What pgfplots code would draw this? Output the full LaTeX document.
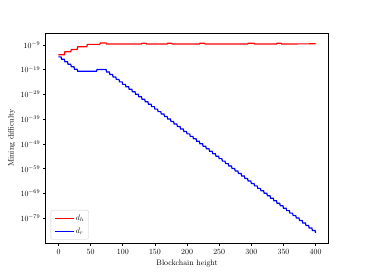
\documentclass[border=0pt]{standalone}
\usepackage{pgfplots}
\pgfplotsset{compat=1.18}
\begin{document}
\begin{tikzpicture}
  \begin{axis}[
      scale only axis,
      width=4.96in, height=3.696in,
      ymode=log,
      xmin=-20, xmax=420,
      ymin=6e-90, ymax=8e-5,
      xtick={0,50,...,400},
      ytick={1e-9,1e-19,1e-29,1e-39,1e-49,1e-59,1e-69,1e-79},
      minor ytick={},
      tick pos=left,
      tick align=outside,
      major tick length=3.5pt,
      axis line style={line width=0.8pt},
      every tick/.style={black, line width=0.8pt},
      xlabel={Blockchain height},
      ylabel={Mining difficulty},
      clip=false,
      legend cell align=left,
      legend style={draw=black!20, rounded corners=2pt,
                    at={(0.018,0.02)}, anchor=south west,
                    row sep=4pt, inner xsep=4pt, inner ysep=4pt},
      legend image code/.code={
        \draw[#1, mark=none] (0cm,0cm) -- (0.85cm,0cm);},
    ]
    % invisible frame to keep the 6.4 x 4.8 figure proportions
    \path (rel axis cs:-0.1613,-0.1429) rectangle (rel axis cs:1.129,1.1558);

    % d_h
    \addplot[mark=none, color=red, line width=1.5pt] table[row sep=\\] {
      x y \\
      0 1.2e-13 \\ 9 1.2e-13 \\ 10 2e-12 \\ 19 2e-12 \\
      20 1.6e-11 \\ 29 1.6e-11 \\ 30 2e-10 \\ 44 2e-10 \\
      45 1.8e-9 \\ 64 1.8e-9 \\ 65 6e-9 \\ 74 6e-9 \\
      75 2.5e-9 \\ 129 2.5e-9 \\ 130 5e-9 \\ 136 5e-9 \\
      137 2.5e-9 \\ 169 2.5e-9 \\ 170 5e-9 \\ 176 5e-9 \\
      177 2.5e-9 \\ 219 2.5e-9 \\ 220 5e-9 \\ 227 5e-9 \\
      228 2.5e-9 \\ 294 2.5e-9 \\ 295 5e-9 \\ 304 5e-9 \\
      305 2.5e-9 \\ 339 2.5e-9 \\ 340 5e-9 \\ 346 5e-9 \\
      347 2.5e-9 \\ 400 3e-9 \\
    };
    \addlegendentry{$d_h$}

    % d_r
    \addplot[mark=none, color=blue, line width=1.5pt] table[row sep=\\] {
      x y \\
      0 1.6e-14 \\ 4 1.6e-14 \\ 5 1.6e-15 \\ 9 1.6e-15 \\
      10 1.6e-16 \\ 14 1.6e-16 \\ 15 1.6e-17 \\ 19 1.6e-17 \\
      20 1.6e-18 \\ 24 1.6e-18 \\ 25 1.6e-19 \\ 29 1.6e-19 \\
      30 2.5e-20 \\ 59 2.5e-20 \\ 60 1.26e-19 \\ 74 1.26e-19 \\
      75 1.26e-20 \\ 79 1.26e-20 \\ 80 1.26e-21 \\ 84 1.26e-21 \\
      85 1.26e-22 \\ 89 1.26e-22 \\ 90 1.26e-23 \\ 94 1.26e-23 \\
      95 1.26e-24 \\ 99 1.26e-24 \\ 100 1.26e-25 \\ 104 1.26e-25 \\
      105 1.26e-26 \\ 109 1.26e-26 \\ 110 1.26e-27 \\ 114 1.26e-27 \\
      115 1.26e-28 \\ 119 1.26e-28 \\ 120 1.26e-29 \\ 124 1.26e-29 \\
      125 1.26e-30 \\ 129 1.26e-30 \\ 130 1.26e-31 \\ 134 1.26e-31 \\
      135 1.26e-32 \\ 139 1.26e-32 \\ 140 1.26e-33 \\ 144 1.26e-33 \\
      145 1.26e-34 \\ 149 1.26e-34 \\ 150 1.26e-35 \\ 154 1.26e-35 \\
      155 1.26e-36 \\ 159 1.26e-36 \\ 160 1.26e-37 \\ 164 1.26e-37 \\
      165 1.26e-38 \\ 169 1.26e-38 \\ 170 1.26e-39 \\ 174 1.26e-39 \\
      175 1.26e-40 \\ 179 1.26e-40 \\ 180 1.26e-41 \\ 184 1.26e-41 \\
      185 1.26e-42 \\ 189 1.26e-42 \\ 190 1.26e-43 \\ 194 1.26e-43 \\
      195 1.26e-44 \\ 199 1.26e-44 \\ 200 1.26e-45 \\ 204 1.26e-45 \\
      205 1.26e-46 \\ 209 1.26e-46 \\ 210 1.26e-47 \\ 214 1.26e-47 \\
      215 1.26e-48 \\ 219 1.26e-48 \\ 220 1.26e-49 \\ 224 1.26e-49 \\
      225 1.26e-50 \\ 229 1.26e-50 \\ 230 1.26e-51 \\ 234 1.26e-51 \\
      235 1.26e-52 \\ 239 1.26e-52 \\ 240 1.26e-53 \\ 244 1.26e-53 \\
      245 1.26e-54 \\ 249 1.26e-54 \\ 250 1.26e-55 \\ 254 1.26e-55 \\
      255 1.26e-56 \\ 259 1.26e-56 \\ 260 1.26e-57 \\ 264 1.26e-57 \\
      265 1.26e-58 \\ 269 1.26e-58 \\ 270 1.26e-59 \\ 274 1.26e-59 \\
      275 1.26e-60 \\ 279 1.26e-60 \\ 280 1.26e-61 \\ 284 1.26e-61 \\
      285 1.26e-62 \\ 289 1.26e-62 \\ 290 1.26e-63 \\ 294 1.26e-63 \\
      295 1.26e-64 \\ 299 1.26e-64 \\ 300 1.26e-65 \\ 304 1.26e-65 \\
      305 1.26e-66 \\ 309 1.26e-66 \\ 310 1.26e-67 \\ 314 1.26e-67 \\
      315 1.26e-68 \\ 319 1.26e-68 \\ 320 1.26e-69 \\ 324 1.26e-69 \\
      325 1.26e-70 \\ 329 1.26e-70 \\ 330 1.26e-71 \\ 334 1.26e-71 \\
      335 1.26e-72 \\ 339 1.26e-72 \\ 340 1.26e-73 \\ 344 1.26e-73 \\
      345 1.26e-74 \\ 349 1.26e-74 \\ 350 1.26e-75 \\ 354 1.26e-75 \\
      355 1.26e-76 \\ 359 1.26e-76 \\ 360 1.26e-77 \\ 364 1.26e-77 \\
      365 1.26e-78 \\ 369 1.26e-78 \\ 370 1.26e-79 \\ 374 1.26e-79 \\
      375 1.26e-80 \\ 379 1.26e-80 \\ 380 1.26e-81 \\ 384 1.26e-81 \\
      385 1.26e-82 \\ 389 1.26e-82 \\ 390 1.26e-83 \\ 394 1.26e-83 \\
      395 1.26e-84 \\ 399 1.26e-84 \\ 400 1.26e-85 \\
    };
    \addlegendentry{$d_r$}
  \end{axis}
\end{tikzpicture}
\end{document}
